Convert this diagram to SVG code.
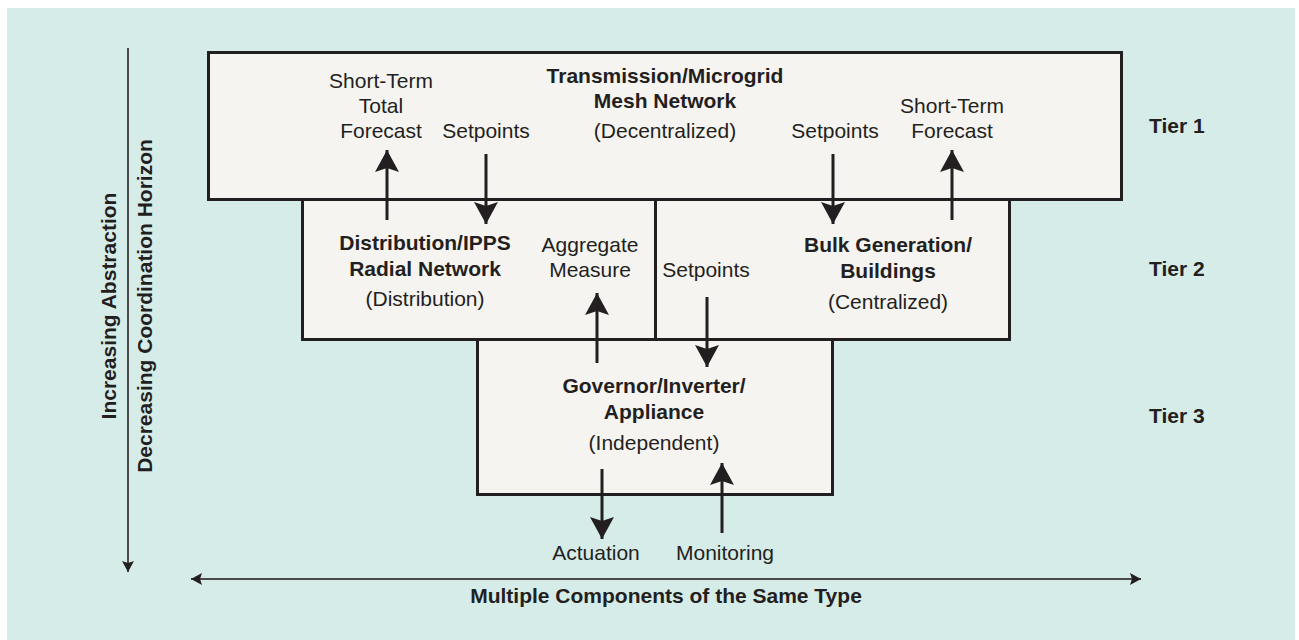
<svg xmlns="http://www.w3.org/2000/svg" width="1299" height="640" viewBox="0 0 1299 640">
<defs>
<style>
.bg{fill:#d6ece8}
.box{fill:#f5f4f0;stroke:#231f20;stroke-width:3}
.t{font-family:"Liberation Sans",Arial,sans-serif;font-size:21px;fill:#231f20;text-anchor:middle}
.b{font-weight:bold}
.tl{text-anchor:start}
.ar{stroke:#231f20;stroke-width:3;fill:none}
.ax{stroke:#4a4a4a;stroke-width:2;fill:none}
</style>
<marker id="ah" viewBox="0 0 24 24" refX="22" refY="12" markerWidth="24" markerHeight="24" markerUnits="userSpaceOnUse" orient="auto">
<path d="M22,12 L0,0 L4,12 L0,24 Z" fill="#231f20"/>
</marker>
<marker id="as" viewBox="0 0 12 12" refX="11" refY="6" markerWidth="12" markerHeight="12" markerUnits="userSpaceOnUse" orient="auto-start-reverse">
<path d="M11,6 L0,0 L2,6 L0,12 Z" fill="#231f20"/>
</marker>
</defs>
<rect class="bg" x="7" y="8" width="1288" height="632"/>

<g id="tier1">
<rect class="box" x="208.5" y="52.5" width="913" height="147"/>
<text class="t b" x="665" y="83">Transmission/Microgrid</text>
<text class="t b" x="665" y="108">Mesh Network</text>
<text class="t" x="665" y="138">(Decentralized)</text>
<text class="t" x="381" y="88">Short-Term</text>
<text class="t" x="381" y="113">Total</text>
<text class="t" x="381" y="138">Forecast</text>
<text class="t" x="486" y="138">Setpoints</text>
<text class="t" x="835" y="138">Setpoints</text>
<text class="t" x="952" y="113">Short-Term</text>
<text class="t" x="952" y="138">Forecast</text>
</g>

<g id="tier2-distribution">
<rect class="box" x="302.5" y="199.5" width="353" height="140"/>
<text class="t b" x="425" y="250">Distribution/IPPS</text>
<text class="t b" x="425" y="276">Radial Network</text>
<text class="t" x="425" y="306">(Distribution)</text>
<text class="t" x="590" y="252">Aggregate</text>
<text class="t" x="590" y="277">Measure</text>
</g>

<g id="tier2-bulk">
<rect class="box" x="655.5" y="199.5" width="354" height="140"/>
<text class="t b" x="888" y="252">Bulk Generation/</text>
<text class="t b" x="888" y="278">Buildings</text>
<text class="t" x="888" y="309">(Centralized)</text>
<text class="t" x="706" y="277">Setpoints</text>
</g>

<g id="tier3">
<rect class="box" x="477.5" y="339.5" width="355" height="155"/>
<text class="t b" x="654" y="393">Governor/Inverter/</text>
<text class="t b" x="654" y="419">Appliance</text>
<text class="t" x="654" y="450">(Independent)</text>
</g>

<g id="io-labels">
<text class="t" x="596" y="560">Actuation</text>
<text class="t" x="725" y="560">Monitoring</text>
</g>

<g id="tier-labels">
<text class="t b tl" x="1149" y="133">Tier 1</text>
<text class="t b tl" x="1149" y="276">Tier 2</text>
<text class="t b tl" x="1149" y="423">Tier 3</text>
</g>

<g id="connectors">
<line class="ar" x1="387" y1="220" x2="387" y2="150" marker-end="url(#ah)"/>
<line class="ar" x1="486" y1="154" x2="486" y2="224" marker-end="url(#ah)"/>
<line class="ar" x1="833" y1="154" x2="833" y2="224" marker-end="url(#ah)"/>
<line class="ar" x1="952" y1="220" x2="952" y2="150" marker-end="url(#ah)"/>
<line class="ar" x1="597" y1="363" x2="597" y2="293" marker-end="url(#ah)"/>
<line class="ar" x1="707" y1="297" x2="707" y2="367" marker-end="url(#ah)"/>
<line class="ar" x1="602" y1="469" x2="602" y2="539" marker-end="url(#ah)"/>
<line class="ar" x1="722" y1="533" x2="722" y2="463" marker-end="url(#ah)"/>
</g>

<g id="axes">
<line class="ax" x1="128" y1="48" x2="128" y2="572" marker-end="url(#as)"/>
<line class="ax" x1="191" y1="579" x2="1141" y2="579" marker-start="url(#as)" marker-end="url(#as)"/>
<text class="t b" transform="translate(116,306) rotate(-90)">Increasing Abstraction</text>
<text class="t b" transform="translate(152,306) rotate(-90)">Decreasing Coordination Horizon</text>
<text class="t b" x="666" y="603">Multiple Components of the Same Type</text>
</g>
</svg>
